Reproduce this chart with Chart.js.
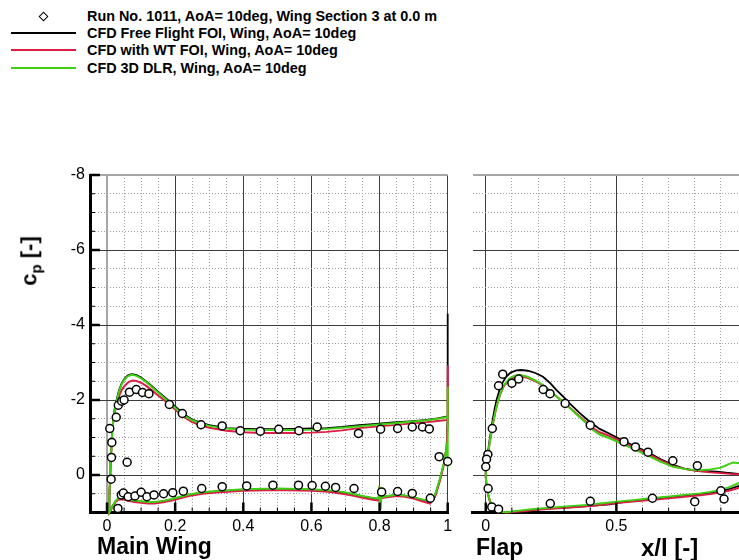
<!DOCTYPE html>
<html>
<head>
<meta charset="utf-8">
<script src="https://cdn.jsdelivr.net/npm/chart.js"></script>
<style>
  body { margin: 0; width: 739px; height: 560px; overflow: hidden; background: #fff; position: relative;
         font-family: "Liberation Sans", Arial, sans-serif; color: #000; }
  canvas { position: absolute; top: 0; }
  #mainChart { left: 0; }
  #flapChart { left: 460px; }
  .lbl { position: absolute; font-weight: bold; white-space: nowrap; line-height: 1; }
  .row { position: absolute; left: 0; width: 460px; height: 16px; }
  .sample { position: absolute; left: 11px; top: 7px; width: 65px; border-top: 2px solid #000; }
  .diamond { position: absolute; left: 40px; top: 5px; width: 5px; height: 5px; border: 1.5px solid #000;
             transform: rotate(45deg); background: #fff; }
  .txt { position: absolute; left: 87px; top: 0; font: bold 14.4px "Liberation Sans", Arial, sans-serif; line-height: 16px; }
  #ytitle { left: 31px; top: 261px; font-size: 22px; transform: translate(-50%, -50%) rotate(-90deg); }
  #ytitle sub { font-size: 15px; }
</style>
</head>
<body>
<div id="legend"></div>
<canvas id="mainChart" width="460" height="560"></canvas>
<canvas id="flapChart" width="300" height="560"></canvas>
<div class="lbl" id="ytitle">c<sub>p</sub> [-]</div>
<div class="lbl" style="left:97px; top:535px; font-size:23px;">Main Wing</div>
<div class="lbl" style="left:476px; top:536px; font-size:23px;">Flap</div>
<div class="lbl" style="left:641px; top:536px; font-size:24px;">x/l [-]</div>
<script>
const seriesNames = [
  "Run No. 1011, AoA= 10deg, Wing Section 3 at 0.0 m",
  "CFD Free Flight FOI, Wing, AoA= 10deg",
  "CFD with WT FOI, Wing, AoA= 10deg",
  "CFD 3D DLR, Wing, AoA= 10deg"
];
const seriesColors = ["#000000", "#000000", "#dc1e46", "#3fd014"];

// tick labels
const cpTickLabels = [-8, -6, -4, -2, 0];
const mainXTickLabels = [0, 0.2, 0.4, 0.6, 0.8, 1];
const flapXTickLabels = [0, 0.5];

// main wing, measured [x/l, cp]
const mainExp = [
  [0.012, 0.11], [0.013, -0.47], [0.014, -0.87], [0.008, -1.24], [0.027, -1.54], [0.033, -1.86],
  [0.043, -1.97], [0.05, -2.0], [0.066, -2.21], [0.086, -2.28], [0.104, -2.2], [0.123, -2.17],
  [0.183, -1.88], [0.221, -1.64], [0.276, -1.34], [0.338, -1.31], [0.391, -1.18], [0.45, -1.17],
  [0.504, -1.22], [0.563, -1.18], [0.617, -1.28], [0.738, -1.11], [0.803, -1.22], [0.853, -1.24],
  [0.896, -1.28], [0.926, -1.28], [0.946, -1.23], [0.975, -0.49], [1.0, -0.36], [0.059, -0.34],
  [0.032, 0.89], [0.042, 0.53], [0.048, 0.48], [0.062, 0.58], [0.082, 0.56], [0.1, 0.46],
  [0.117, 0.58], [0.138, 0.53], [0.166, 0.5], [0.193, 0.47], [0.224, 0.43], [0.278, 0.36],
  [0.338, 0.31], [0.41, 0.29], [0.487, 0.27], [0.562, 0.27], [0.602, 0.28], [0.641, 0.3],
  [0.671, 0.33], [0.725, 0.36], [0.806, 0.45], [0.853, 0.44], [0.896, 0.49], [0.949, 0.62]
];
const mainFreeFlight = [
  [1.0, -4.3], [1.0, -1.56], [0.97, -1.51], [0.94, -1.47], [0.89, -1.43], [0.84, -1.4], [0.79, -1.36],
  [0.74, -1.33], [0.69, -1.28], [0.645, -1.25], [0.6, -1.24], [0.55, -1.23], [0.5, -1.22], [0.45, -1.22],
  [0.4, -1.23], [0.35, -1.25], [0.326, -1.29], [0.3, -1.33], [0.277, -1.39], [0.25, -1.48], [0.229, -1.6],
  [0.21, -1.75], [0.19, -1.91], [0.17, -2.07], [0.15, -2.22], [0.13, -2.38], [0.116, -2.49], [0.1, -2.6],
  [0.085, -2.67], [0.072, -2.69], [0.06, -2.65], [0.05, -2.55], [0.043, -2.44], [0.035, -2.25],
  [0.028, -2.0], [0.022, -1.75], [0.018, -1.47], [0.015, -1.15], [0.0135, -0.85], [0.011, -0.4],
  [0.009, 0.1], [0.007, 0.5], [0.006, 0.85], [0.007, 1.0], [0.012, 0.9], [0.018, 0.8], [0.025, 0.7],
  [0.033, 0.63], [0.045, 0.62], [0.06, 0.65], [0.08, 0.69], [0.1, 0.71], [0.12, 0.73], [0.14, 0.73],
  [0.165, 0.7], [0.19, 0.65], [0.215, 0.59], [0.24, 0.53], [0.28, 0.47], [0.32, 0.44], [0.4, 0.39],
  [0.5, 0.37], [0.6, 0.39], [0.65, 0.42], [0.69, 0.46], [0.72, 0.51], [0.75, 0.57], [0.78, 0.62],
  [0.8, 0.64], [0.81, 0.58], [0.85, 0.53], [0.875, 0.55], [0.9, 0.6], [0.925, 0.66], [0.948, 0.71],
  [0.963, 0.55], [0.977, 0.13], [0.989, -0.31], [0.997, -0.76], [1.0, -1.56]
];
const mainWTFOI = [
  [1.0, -2.93], [1.0, -1.47], [0.97, -1.44], [0.94, -1.41], [0.89, -1.37], [0.84, -1.33], [0.79, -1.29],
  [0.74, -1.25], [0.69, -1.19], [0.645, -1.15], [0.6, -1.13], [0.55, -1.12], [0.5, -1.12], [0.45, -1.12],
  [0.4, -1.14], [0.35, -1.18], [0.326, -1.22], [0.3, -1.26], [0.277, -1.32], [0.25, -1.41], [0.229, -1.53],
  [0.21, -1.67], [0.19, -1.83], [0.17, -1.98], [0.15, -2.12], [0.13, -2.27], [0.116, -2.37], [0.1, -2.46],
  [0.085, -2.51], [0.075, -2.52], [0.063, -2.48], [0.052, -2.38], [0.043, -2.27], [0.035, -2.1],
  [0.028, -1.88], [0.022, -1.65], [0.018, -1.4], [0.015, -1.1], [0.0135, -0.82], [0.011, -0.4],
  [0.009, 0.1], [0.007, 0.5], [0.006, 0.85], [0.007, 1.0], [0.012, 0.92], [0.018, 0.82], [0.025, 0.72],
  [0.033, 0.66], [0.045, 0.65], [0.06, 0.68], [0.08, 0.72], [0.1, 0.74], [0.12, 0.76], [0.14, 0.76],
  [0.165, 0.73], [0.19, 0.68], [0.215, 0.62], [0.24, 0.56], [0.28, 0.5], [0.32, 0.47], [0.4, 0.42],
  [0.5, 0.4], [0.6, 0.42], [0.65, 0.45], [0.69, 0.5], [0.72, 0.55], [0.75, 0.61], [0.78, 0.66],
  [0.797, 0.68], [0.799, 0.3], [0.802, 0.93], [0.805, 0.62], [0.81, 0.61], [0.85, 0.56], [0.875, 0.58],
  [0.9, 0.63], [0.925, 0.7], [0.948, 0.76], [0.963, 0.58], [0.977, 0.16], [0.989, -0.28], [0.997, -0.74],
  [1.0, -1.47]
];
const mainDLR = [
  [1.0, -2.35], [1.0, -1.55], [0.97, -1.5], [0.94, -1.46], [0.89, -1.42], [0.84, -1.38], [0.79, -1.34],
  [0.74, -1.3], [0.69, -1.26], [0.645, -1.23], [0.6, -1.21], [0.55, -1.2], [0.5, -1.2], [0.45, -1.2],
  [0.4, -1.21], [0.35, -1.24], [0.326, -1.27], [0.3, -1.31], [0.277, -1.37], [0.25, -1.46], [0.229, -1.57],
  [0.21, -1.71], [0.19, -1.88], [0.17, -2.04], [0.15, -2.2], [0.13, -2.36], [0.116, -2.47], [0.1, -2.58],
  [0.085, -2.65], [0.072, -2.67], [0.06, -2.63], [0.05, -2.53], [0.043, -2.42], [0.035, -2.22],
  [0.028, -1.97], [0.022, -1.7], [0.018, -1.43], [0.015, -1.12], [0.0135, -0.83], [0.011, -0.4],
  [0.009, 0.1], [0.007, 0.5], [0.006, 0.85], [0.007, 1.0], [0.012, 0.9], [0.018, 0.79], [0.025, 0.69],
  [0.033, 0.62], [0.045, 0.61], [0.06, 0.64], [0.08, 0.68], [0.1, 0.7], [0.12, 0.72], [0.14, 0.72],
  [0.165, 0.69], [0.19, 0.64], [0.215, 0.58], [0.24, 0.52], [0.28, 0.46], [0.32, 0.43], [0.4, 0.38],
  [0.5, 0.36], [0.6, 0.38], [0.65, 0.41], [0.69, 0.45], [0.72, 0.5], [0.75, 0.56], [0.78, 0.61],
  [0.797, 0.63], [0.799, 0.3], [0.802, 0.92], [0.805, 0.6], [0.81, 0.58], [0.85, 0.53], [0.875, 0.55],
  [0.9, 0.59], [0.925, 0.65], [0.948, 0.7], [0.963, 0.52], [0.977, 0.1], [0.989, -0.33], [0.997, -0.76],
  [1.0, -0.2], [1.0, -1.55]
];

// flap, measured [x/l, cp]
const flapExp = [
  [0.065, -2.69], [0.049, -2.38], [0.1, -2.45], [0.126, -2.56], [0.22, -2.28], [0.246, -2.17],
  [0.304, -1.91], [0.4, -1.33], [0.529, -0.89], [0.573, -0.75], [0.621, -0.61], [0.716, -0.38],
  [0.81, -0.25], [0.025, -1.24], [0.008, -0.55], [0.003, -0.42], [0.0, -0.22], [0.009, 0.36],
  [0.023, 0.85], [0.049, 0.91], [0.247, 0.76], [0.4, 0.7], [0.638, 0.62], [0.8, 0.71], [0.9, 0.42],
  [0.912, 0.64]
];
const flapFreeFlight = [
  [1.0, -0.02], [0.967, -0.03], [0.92, -0.06], [0.884, -0.09], [0.845, -0.1], [0.807, -0.11], [0.76, -0.17],
  [0.717, -0.27], [0.67, -0.42], [0.628, -0.58], [0.58, -0.74], [0.532, -0.89], [0.474, -1.1], [0.436, -1.23],
  [0.398, -1.42], [0.36, -1.65], [0.321, -1.91], [0.295, -2.1], [0.27, -2.27], [0.245, -2.46], [0.219, -2.62],
  [0.19, -2.72], [0.161, -2.78], [0.135, -2.8], [0.117, -2.79], [0.095, -2.73], [0.078, -2.62], [0.065, -2.47],
  [0.053, -2.27], [0.042, -2.02], [0.033, -1.73], [0.026, -1.45], [0.021, -1.2], [0.014, -0.9], [0.008, -0.58],
  [0.003, -0.33], [0.0, -0.13], [0.0, 0.05], [0.003, 0.28], [0.008, 0.49], [0.016, 0.7], [0.027, 0.85],
  [0.042, 0.94], [0.059, 0.98], [0.08, 0.99], [0.104, 0.98], [0.15, 0.95], [0.193, 0.92], [0.25, 0.89],
  [0.321, 0.86], [0.4, 0.82], [0.474, 0.78], [0.52, 0.73], [0.564, 0.69], [0.63, 0.64], [0.692, 0.6],
  [0.76, 0.55], [0.82, 0.51], [0.86, 0.47], [0.896, 0.43], [0.93, 0.38], [0.961, 0.31], [1.0, 0.22]
];
const flapWTFOI = [
  [1.0, -0.01], [0.97, -0.02], [0.935, -0.03], [0.9, -0.05], [0.86, -0.07], [0.82, -0.1], [0.77, -0.15],
  [0.717, -0.24], [0.67, -0.39], [0.628, -0.54], [0.58, -0.7], [0.532, -0.85], [0.474, -1.04], [0.436, -1.14],
  [0.41, -1.25], [0.385, -1.41], [0.35, -1.62], [0.308, -1.88], [0.27, -2.1], [0.24, -2.27], [0.219, -2.38],
  [0.19, -2.5], [0.16, -2.59], [0.13, -2.63], [0.11, -2.61], [0.09, -2.54], [0.07, -2.38], [0.058, -2.2],
  [0.047, -1.97], [0.037, -1.69], [0.029, -1.41], [0.021, -1.11], [0.014, -0.82], [0.008, -0.53],
  [0.003, -0.28], [0.0, -0.08], [0.0, 0.05], [0.003, 0.28], [0.008, 0.5], [0.016, 0.71], [0.027, 0.86],
  [0.042, 0.95], [0.059, 0.99], [0.08, 1.0], [0.104, 0.99], [0.15, 0.96], [0.193, 0.93], [0.25, 0.9],
  [0.321, 0.87], [0.4, 0.83], [0.436, 0.8], [0.5, 0.75], [0.564, 0.71], [0.63, 0.67], [0.692, 0.63],
  [0.76, 0.58], [0.82, 0.54], [0.86, 0.51], [0.896, 0.47], [0.93, 0.42], [0.961, 0.36], [1.0, 0.28]
];
const flapDLR = [
  [1.0, -0.26], [0.98, -0.3], [0.965, -0.32], [0.947, -0.33], [0.93, -0.29], [0.915, -0.24], [0.896, -0.19],
  [0.86, -0.15], [0.82, -0.13], [0.77, -0.15], [0.717, -0.22], [0.67, -0.35], [0.628, -0.49], [0.58, -0.65],
  [0.532, -0.8], [0.474, -0.98], [0.436, -1.08], [0.41, -1.2], [0.385, -1.38], [0.35, -1.6], [0.308, -1.87],
  [0.27, -2.1], [0.24, -2.28], [0.219, -2.4], [0.19, -2.52], [0.16, -2.62], [0.129, -2.67], [0.11, -2.65],
  [0.09, -2.57], [0.07, -2.4], [0.058, -2.22], [0.047, -1.98], [0.037, -1.7], [0.029, -1.42], [0.021, -1.12],
  [0.014, -0.82], [0.008, -0.53], [0.003, -0.28], [0.0, -0.08], [0.0, 0.05], [0.003, 0.28], [0.008, 0.49],
  [0.016, 0.7], [0.027, 0.85], [0.042, 0.94], [0.059, 0.98], [0.08, 0.99], [0.104, 0.97], [0.15, 0.93],
  [0.193, 0.9], [0.25, 0.87], [0.321, 0.83], [0.4, 0.79], [0.436, 0.76], [0.5, 0.71], [0.564, 0.67],
  [0.63, 0.62], [0.692, 0.58], [0.76, 0.53], [0.82, 0.49], [0.86, 0.45], [0.896, 0.4], [0.93, 0.33],
  [0.961, 0.24], [1.0, 0.12]
];

// legend
const legend = document.getElementById("legend");
seriesNames.forEach(function (name, i) {
  const row = document.createElement("div");
  row.className = "row";
  row.style.top = [8, 25, 42, 60][i] + "px";
  row.innerHTML = (i === 0 ? '<span class="diamond"></span>'
    : '<span class="sample" style="border-color:' + seriesColors[i] + '"></span>')
    + '<span class="txt">' + name + '</span>';
  legend.appendChild(row);
});

Chart.defaults.font.family = '"Liberation Sans", Arial, sans-serif';
Chart.defaults.color = "#000";

function steps(from, to, step) {
  let out = [];
  for (let v = from; v <= to + 1e-9; v += step) out.push(+v.toFixed(2));
  return out;
}
const cpGrid = steps(-8, 1, 0.5);

function toXY(list) {
  return list.map(p => ({ x: p[0], y: p[1] }));
}

function datasets(exp, free, wt, dlr) {
  const line = (data, color, w) => ({
    data: toXY(data), showLine: true, borderColor: color, borderWidth: w,
    pointRadius: 0, tension: 0, clip: 3
  });
  return [
    { data: toXY(exp), pointStyle: "circle", pointRadius: 4, borderWidth: 1.5,
      borderColor: "#000", backgroundColor: "#fff", clip: false },
    line(dlr, seriesColors[3], 2),
    line(wt, seriesColors[2], 2),
    line(free, seriesColors[1], 1.8)
  ];
}

// grid styling: majors solid dark, minors dotted grey, top edge grey
function grid(majors, special) {
  return {
    drawTicks: false,
    color: c => {
      const v = c.tick ? c.tick.value : null;
      if (special[v]) return special[v][0];
      return majors.includes(v) ? "#3c3c3c" : "#a0a0a0";
    },
    lineWidth: c => {
      const v = c.tick ? c.tick.value : null;
      return special[v] ? special[v][1] : 1;
    }
  };
}
function border(majors, show) {
  return {
    display: show, color: "#000", width: 3,
    dash: c => (c.tick && !majors.includes(c.tick.value)) ? [1, 2] : []
  };
}

// inward tick marks along the axes
function innerTicks(marks) {
  return {
    id: "innerTicks",
    afterDatasetsDraw(chart) {
      const { ctx, chartArea } = chart;
      ctx.save();
      ctx.strokeStyle = "#000";
      Object.keys(marks).forEach(id => {
        const scale = chart.scales[id];
        scale.ticks.forEach(t => {
          const major = marks[id].includes(t.value);
          const len = major ? 10 : 5;
          ctx.lineWidth = major ? 2.5 : 1;
          const p = scale.getPixelForValue(t.value);
          ctx.beginPath();
          if (scale.isHorizontal()) {
            ctx.moveTo(p, chartArea.bottom);
            ctx.lineTo(p, chartArea.bottom - len);
          } else {
            ctx.moveTo(chartArea.left, p);
            ctx.lineTo(chartArea.left + len, p);
          }
          ctx.stroke();
        });
      });
      ctx.restore();
    }
  };
}

function yScale(showLabels) {
  return {
    type: "linear", reverse: true, min: -8, max: 1,
    afterBuildTicks: s => { s.ticks = cpGrid.map(v => ({ value: v })); },
    afterFit: s => { s.width = showLabels ? 90 : 0; },
    ticks: {
      display: showLabels, autoSkip: false, padding: 5, font: { size: 16 },
      callback: v => cpTickLabels.includes(v) ? String(v) : ""
    },
    grid: grid(cpTickLabels, { "-8": ["#a6a6a6", 2] }),
    border: border(cpTickLabels, showLabels)
  };
}

function xScale(gridVals, labels, majors, special) {
  return {
    type: "linear", min: -0.05, max: 1,
    afterBuildTicks: s => { s.ticks = gridVals.map(v => ({ value: v })); },
    afterFit: s => { s.height = 47.5; },
    ticks: {
      autoSkip: false, maxRotation: 0, padding: 4, font: { size: 16 },
      callback: v => labels.includes(v) ? String(v) : ""
    },
    grid: grid(majors, special),
    border: border(majors, true)
  };
}

new Chart(document.getElementById("mainChart"), {
  type: "scatter",
  data: { datasets: datasets(mainExp, mainFreeFlight, mainWTFOI, mainDLR) },
  options: {
    responsive: false, animation: false, events: [],
    layout: { padding: { top: 175, right: 12.3, left: 0, bottom: 0 } },
    plugins: { legend: { display: false }, tooltip: { enabled: false } },
    scales: {
      x: xScale(steps(0, 1, 0.05), mainXTickLabels, mainXTickLabels, { "0": ["#a6a6a6", 2] }),
      y: yScale(true)
    }
  },
  plugins: [innerTicks({ x: mainXTickLabels, y: cpTickLabels })]
});

new Chart(document.getElementById("flapChart"), {
  type: "scatter",
  data: { datasets: datasets(flapExp, flapFreeFlight, flapWTFOI, flapDLR) },
  options: {
    responsive: false, animation: false, events: [],
    layout: { padding: { top: 175, right: 13, left: 12.7, bottom: 0 } },
    plugins: { legend: { display: false }, tooltip: { enabled: false } },
    scales: {
      x: xScale(steps(0, 1, 0.1), flapXTickLabels, [0, 0.5, 1], {}),
      y: yScale(false)
    }
  },
  plugins: [innerTicks({ x: flapXTickLabels })]
});
</script>
</body>
</html>
